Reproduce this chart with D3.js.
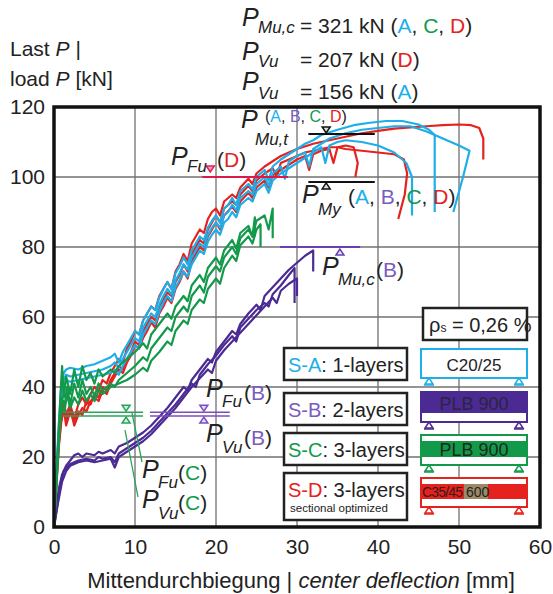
<!DOCTYPE html>
<html>
<head>
<meta charset="utf-8">
<script src="https://cdn.jsdelivr.net/npm/d3@7"></script>
<style>
  body { margin: 0; background: white; }
  svg { display: block; font-family: "Liberation Sans", Arial, sans-serif; }
</style>
</head>
<body>
<svg id="chart" width="553" height="594"></svg>
<script>
// ticks
var xTicks = [0, 10, 20, 30, 40, 50, 60];
var yTicks = [0, 20, 40, 60, 80, 100, 120];

// S-A (1-layers) load-deflection curves [deflection mm, load kN]
var seriesA1 = [[0,0],[0.3,16],[0.6,30],[0.9,40],[1.2,44],[1.5,45],[2,45.5],[3,45],[4,46],[5,46.5],[6,47.5],[7,48.5],[7.5,49.5],[8,47],[8.5,50],[9,52],[9.5,54],[10,56],[10.5,55],[11,59],[11.5,61],[12,63],[12.5,62],[13,65.5],[13.5,68],[14,70],[14.5,68],[15,72.5],[15.5,74.5],[16,77],[16.5,75],[17,79],[17.5,81],[18,83],[18.5,82],[19,85.5],[19.5,87.5],[20,89],[20.5,87],[21,91],[21.5,92],[22,94],[22.5,92],[23,96],[24,98],[24.5,96.5],[25,100],[26,102],[26.5,99],[27,103],[28,105],[29,106.5],[30,108],[31,109.5],[32,110.5],[33,112],[35,113.5],[37,114.8],[39,115.5],[41,116],[43,116],[45,115],[46.3,113.5],[47,112],[47,101],[47,90]];
var seriesA2 = [[0,0],[0.3,15],[0.6,28],[0.9,38],[1.2,42],[1.5,43.5],[2,43],[3,43.5],[4,44],[5,44.5],[6,45],[7,46],[7.5,47],[8,45.5],[8.5,48],[9,50],[9.5,52],[10,54],[10.5,53],[11,57],[11.5,59],[12,61],[12.5,60],[13,63.5],[13.5,66],[14,68],[14.5,66.5],[15,70.5],[15.5,72.5],[16,75],[16.5,73.5],[17,77],[17.5,79],[18,81],[18.5,80],[19,83.5],[19.5,85.5],[20,87],[20.5,85.5],[21,89],[21.5,90],[22,92],[22.5,90.5],[23,94],[24,96],[24.5,95],[25,98],[26,100],[26.5,97.5],[27,101],[28,103],[28.5,99.5],[29,104.5],[30,106],[31,107],[31.5,103],[32,108],[33,109.5],[34,111],[36,112.5],[38,113.5],[40,114],[42,114.5],[44,114.5],[46,113],[48,111],[50,109],[51.3,107.5],[50.5,100],[49.3,90]];
var seriesA3 = [[0,0],[0.3,14],[0.6,27],[0.9,36],[1.2,40],[1.5,42],[2,41.5],[3,42],[4,42.5],[5,43],[6,43.5],[7,44],[7.5,45],[8,43.5],[8.5,46],[9,48],[9.5,50],[10,52],[10.5,51],[11,55],[11.5,57],[12,59],[12.5,58],[13,61.5],[13.5,64],[14,66],[14.5,64.5],[15,68.5],[15.5,70.5],[16,73],[16.5,71.5],[17,75],[17.5,77],[18,79],[18.5,78],[19,81.5],[19.5,83.5],[20,85],[20.5,83.5],[21,87],[21.5,88],[22,90],[22.5,88.5],[23,92],[24,94],[24.5,93],[25,96],[26,98],[26.5,95.5],[27,99],[28,101],[29,102.5],[30,104],[31,105.5],[32,107],[33,108.5],[33.5,104],[34,109],[35,110],[36,110.5],[38,110],[40,109],[42,107],[43.5,104],[44.2,100],[44.2,89]];

// S-B (2-layers)
var seriesB1 = [[0,0],[0.3,6],[0.6,11],[1,15],[1.5,17.5],[2,19],[2.5,20.5],[3,21],[3.5,20],[4,21],[5,20.5],[5.5,21.5],[6,21],[7,22],[7.5,21],[8,23],[9,24],[10,25.5],[11,27],[12,29],[13,31.5],[14,34],[15,37],[16,40],[16.5,39],[17,42],[18,45],[19,48],[19.5,47],[20,50],[21,53],[22,56],[22.5,55],[23,58],[24,61],[25,63.5],[25.5,62],[26,66],[27,68.5],[28,71],[29,73.5],[30,75.5],[31,77.5],[32,79],[32,73]];
var seriesB2 = [[0,0],[0.4,6],[0.8,12],[1.2,16],[2,18],[3,19],[4,19.5],[5,19],[5.5,20],[6,19.5],[7,20],[7.5,18.5],[8,21],[9,22.5],[10,24],[11,25.5],[12,27.5],[13,30],[14,32.5],[15,35],[16,38],[17,41],[17.5,40],[18,43.5],[19,46.5],[20,49],[21,52],[22,54.5],[22.5,53],[23,57],[24,59.5],[25,62],[26,64],[26.5,63],[27,66.5],[28,69],[29,72],[29.7,74],[29.7,64]];
var seriesB3 = [[0,0],[0.5,7],[1,13],[1.5,16],[2,17.5],[3,18.5],[4,19],[5,18.5],[6,19],[7,19.5],[7.5,17],[8,20],[9,21.5],[10,23],[11,24.5],[12,26.5],[13,29],[14,31.5],[15,34],[16,37],[17,40],[18,42.5],[19,45],[19.5,44],[20,47.5],[21,50.5],[22,53],[23,55.5],[24,58],[25,60.5],[26,63],[27,65.5],[27.5,64],[28,67.5],[29,69.5],[30,71],[30,66]];

// S-C (3-layers)
var seriesC1 = [[0,0],[0.3,14],[0.6,28],[0.8,38],[1,46],[1.2,37],[1.5,43],[2,38],[2.5,45],[3,40],[3.5,46],[4,42],[4.5,44],[5,41],[5.5,45],[6,43],[7,45],[7.5,44],[8,46],[9,48],[10,50],[11,52.5],[11.5,51],[12,55],[13,58],[14,61],[14.5,59.5],[15,63],[16,66],[16.5,64.5],[17,69],[18,72],[18.5,70],[19,74],[20,77],[20.5,75],[21,79],[22,82],[22.5,79.5],[23,84],[24,86],[24.5,83],[25,87.5],[26,89],[26.5,85],[27,91],[27,82.5]];
var seriesC2 = [[0,0],[0.3,13],[0.6,26],[0.8,33],[1,37],[1.3,34],[1.6,40],[2,35],[2.5,41],[3,37],[3.5,42],[4,38],[4.5,40],[5,37.5],[5.5,41],[6,39],[7,41],[7.5,40],[8,42],[9,44],[10,46],[11,48.5],[11.5,47.5],[12,51],[13,54],[14,57],[14.5,56],[15,60],[16,63],[16.5,61.5],[17,66],[18,69],[18.5,67],[19,71.5],[20,74.5],[20.5,73],[21,77],[22,80],[22.5,78],[23,82.5],[24,85],[24.5,83],[24.8,88.5],[24.8,83]];
var seriesC3 = [[0,0],[0.3,12],[0.6,24],[0.8,31],[1,34],[1.3,33],[1.6,38],[2,34],[2.5,37],[3,35],[3.5,39],[4,36],[4.5,38],[5,36],[5.5,39],[6,38],[7,40],[8,41],[9,42],[10,43.5],[11,45.5],[11.5,44.5],[12,47.5],[13,50],[14,53],[14.5,52],[15,56],[16,59],[16.5,58],[17,62],[18,65],[18.5,64],[19,68],[20,71],[20.5,69.5],[21,74],[22,77.5],[22.5,76],[23,80.5],[24,83],[24.5,81],[25,85],[25.5,86.5],[25.5,80]];

// S-D (3-layers, sectional optimized)
var seriesD1 = [[0,0],[0.3,14],[0.6,26],[0.9,33],[1.2,36],[1.5,32],[2,35],[2.5,31],[3,35],[3.5,37],[4,35],[4.5,38],[5,40],[5.5,39],[6,42],[6.5,41],[7,44],[7.5,46],[8,48],[8.5,47],[9,51],[9.5,53],[10,56],[10.5,55],[11,59],[11.5,61],[12,63],[12.5,62],[13,66],[13.5,68],[14,70],[14.5,68],[15,73],[15.5,75],[16,78],[16.5,76],[17,81],[17.5,83],[18,85],[18.5,84],[19,88],[19.5,90],[20,91],[20.5,89],[21,93],[22,95],[22.5,94],[23,97],[24,99.5],[24.5,98],[25,101],[26,103],[27,104.5],[28,106],[29,107],[30,108],[32,109.5],[34,110.5],[36,111.5],[38,112.5],[40,113.2],[42,113.8],[44,114.2],[46,114.5],[48,114.8],[50,115],[51.5,114.8],[52.5,114],[53,111],[53,105]];
var seriesD2 = [[0,0],[0.3,12],[0.6,23],[0.9,30],[1.2,34],[1.5,29],[2,33],[2.5,30],[3,33],[3.5,32],[4,36],[4.5,35],[5,38],[5.5,37],[6,40],[6.5,39],[7,42],[7.5,44],[8,46],[8.5,45],[9,48],[9.5,50],[10,53],[10.5,52],[11,56],[11.5,58],[12,60],[12.5,59],[13,63],[13.5,65],[14,67],[14.5,66],[15,70],[15.5,72],[16,75],[16.5,73],[17,78],[17.5,80],[18,82],[18.5,81],[19,85],[19.5,87],[20,89],[20.5,87],[21,91],[22,93],[22.5,92],[23,95],[24,97.5],[24.5,96],[25,99],[26,101],[27,102.5],[27.5,100],[28,104],[29,105],[30,106],[31,107],[32,107.5],[33,108],[34,108.5],[35,108.5],[36,108],[38,107.5],[40,107],[42,106.5],[43.2,105],[43.6,101],[43.3,95],[42.5,88]];
var seriesD3 = [[0,0],[0.3,13],[0.6,24],[0.9,31],[1.2,35],[1.5,30],[2,34],[2.5,29],[3,32],[3.5,34],[4,33],[4.5,36],[5,37],[5.5,36],[6,39],[6.5,38],[7,41],[7.5,43],[8,45],[8.5,44],[9,47],[9.5,49],[10,52],[10.5,51],[11,54],[11.5,56],[12,58.5],[12.5,57],[13,61],[13.5,63],[14,65.5],[14.5,64],[15,68],[15.5,70],[16,73],[16.5,71],[17,76],[17.5,78],[18,80],[18.5,79],[19,83],[19.5,85],[20,87],[20.5,85],[21,89],[22,91.5],[22.5,90],[23,93],[24,95.5],[24.5,94],[25,97],[26,99],[26.5,97],[27,100.5],[28,102],[29,103.5],[30,105],[31,106],[31.5,102],[32,106.5],[33,107.5],[34,108],[34.5,104],[35,108.5],[36,109],[37,108.5],[37.5,104],[37.2,100]];

// characteristic loads [kN]
var pFuD = 100;
var pMut = 112.3;
var pMy = 98.6;
var pMucB = 80;
var pFuBC = 32.8;
var pVuBC = 31.7;

var legendKeys = ["S-A", "S-B", "S-C", "S-D"];
var legendLabels = [": 1-layers", ": 2-layers", ": 3-layers", ": 3-layers"];

var colors = { A: "#1eaee8", B: "#4b2b93", C: "#13994a", D: "#e5221d" };
var lightB = "#7a5cc0";
var svg, xScale, yScale;

document.addEventListener("DOMContentLoaded", () => {
  svg = d3.select("#chart");
  xScale = d3.scaleLinear().domain([0, 60]).range([54, 540]);
  yScale = d3.scaleLinear().domain([0, 120]).range([527, 107]);
  drawChart();
});

function drawChart() {
  var x = xScale, y = yScale;

  // grid
  var grid = svg.append("g").attr("stroke", "#707070").attr("stroke-width", 1.3);
  grid.selectAll(".gx").data(xTicks.slice(1, -1)).join("line")
    .attr("x1", d => x(d)).attr("x2", d => x(d)).attr("y1", y(0)).attr("y2", y(120));
  grid.selectAll(".gy").data(yTicks.slice(1, -1)).join("line")
    .attr("y1", d => y(d)).attr("y2", d => y(d)).attr("x1", x(0)).attr("x2", x(60));

  // axes tick labels
  var xAxis = d3.axisBottom(x).tickValues(xTicks).tickSize(0).tickPadding(10);
  svg.append("g").attr("transform", `translate(0,${y(0) + 2})`).call(xAxis)
    .call(g => g.select(".domain").remove())
    .selectAll("text").attr("font-size", 21).attr("fill", "#222")
    .attr("font-family", "Liberation Sans, Arial, sans-serif");
  var yAxis = d3.axisLeft(y).tickValues(yTicks).tickSize(0).tickPadding(9);
  svg.append("g").attr("transform", `translate(${x(0)},0)`).call(yAxis)
    .call(g => g.select(".domain").remove())
    .selectAll("text").attr("font-size", 21).attr("fill", "#222")
    .attr("font-family", "Liberation Sans, Arial, sans-serif");

  // curves
  var line = d3.line().x(d => x(d[0])).y(d => y(d[1]));
  var specimens = [
    { key: "B", curves: [seriesB1, seriesB2, seriesB3] },
    { key: "D", curves: [seriesD1, seriesD2, seriesD3] },
    { key: "A", curves: [seriesA1, seriesA2, seriesA3] },
    { key: "C", curves: [seriesC1, seriesC2, seriesC3] },
  ];
  specimens.forEach(s => {
    svg.append("g").selectAll("path").data(s.curves).join("path")
      .attr("d", line).attr("fill", "none")
      .attr("stroke", colors[s.key]).attr("stroke-width", 2.2)
      .attr("stroke-linejoin", "round");
  });

  // reference lines
  function hline(v, x0, x1, color, w) {
    svg.append("line").attr("x1", x(x0)).attr("x2", x(x1))
      .attr("y1", y(v)).attr("y2", y(v))
      .attr("stroke", color).attr("stroke-width", w || 2);
  }
  function tri(cx, cy, up, color, fill) {
    var h = 6, w = 4;
    var p = up ? `M${cx},${cy} L${cx - w},${cy + h} L${cx + w},${cy + h} Z`
               : `M${cx},${cy} L${cx - w},${cy - h} L${cx + w},${cy - h} Z`;
    svg.append("path").attr("d", p).attr("fill", fill || "white")
      .attr("stroke", color).attr("stroke-width", 1.5);
  }

  hline(pFuD, 18.3, 28.9, "#d91a4a", 2.2);
  tri(x(19.3), y(pFuD) - 5, false, "#e0205a", "#f7a0b8");

  hline(pMut, 31.4, 39.6, "#111", 2);
  tri(x(33.6), y(pMut) - 1, false, "#111", "#ddd");
  hline(pMy, 31.4, 39.6, "#111", 2);
  tri(x(33.6), y(pMy) + 1, true, "#111", "#ddd");

  hline(pMucB, 27.9, 37.8, "#6a3fb0", 2);
  tri(x(35.3), y(pMucB) + 2, true, "#6a3fb0", "#e8dcf7");

  hline(pFuBC, 11.85, 21.7, "#7a4ec0", 1.6);
  hline(pVuBC, 11.85, 21.7, "#7a4ec0", 1.6);
  tri(x(18.5), y(pFuBC) - 1, false, "#7a4ec0", "#e8dcf7");
  tri(x(18.5), y(pVuBC) + 1, true, "#7a4ec0", "#e8dcf7");

  hline(pFuBC, 1.1, 11, "#2aa35a", 1.6);
  hline(pVuBC, 1.1, 11, "#2aa35a", 1.6);
  tri(x(8.9), y(pFuBC) - 1, false, "#2aa35a", "#d6f0de");
  tri(x(8.9), y(pVuBC) + 1, true, "#2aa35a", "#d6f0de");
  svg.append("line").attr("x1", 132).attr("y1", 413).attr("x2", 142).attr("y2", 462)
    .attr("stroke", "#2aa35a").attr("stroke-width", 1.3);
  svg.append("line").attr("x1", 125).attr("y1", 430).attr("x2", 138).attr("y2", 497)
    .attr("stroke", "#2aa35a").attr("stroke-width", 1.3);

  // frame
  svg.append("rect").attr("x", x(0)).attr("y", y(120))
    .attr("width", x(60) - x(0)).attr("height", y(0) - y(120))
    .attr("fill", "none").attr("stroke", "#111").attr("stroke-width", 3.5);

  // text helpers: P with subscript as one text element
  function sym(px, py, sub, subDx, subDy) {
    var t = svg.append("text").attr("x", px).attr("y", py).attr("fill", "#222")
      .attr("font-style", "italic");
    t.append("tspan").attr("font-size", 25).text("P");
    t.append("tspan").attr("x", px + (subDx || 16)).attr("dy", subDy || 9)
      .attr("font-size", 17).text(sub);
  }
  function colored(px, py, parts, size) {
    var t = svg.append("text").attr("x", px).attr("y", py).attr("font-size", size || 20);
    parts.forEach(p => t.append("tspan").attr("fill", p[1] || "#222").text(p[0]));
    return t;
  }

  // y title
  colored(10, 56, [["Last "], ["P"], [" |"]], 21).select("tspan:nth-child(2)").attr("font-style", "italic");
  colored(10, 86, [["load "], ["P"], [" [kN]"]], 21).select("tspan:nth-child(2)").attr("font-style", "italic");

  // top text
  sym(242, 26, "Mu,c", 16, 7);
  colored(300, 33, [["= 321 kN ("], ["A", colors.A], [", "], ["C", colors.C], [", "], ["D", colors.D], [")"]], 21);
  sym(242, 60, "Vu", 16, 7);
  colored(300, 67, [["= 207 kN ("], ["D", colors.D], [")"]], 21);
  sym(242, 90, "Vu", 16, 9);
  colored(300, 99, [["= 156 kN ("], ["A", colors.A], [")"]], 21);

  // P_Mu,t
  sym(241, 128, "Mu,t", 14, 17);
  colored(265, 122, [["("], ["A", colors.A], [", "], ["B", lightB], [", "], ["C", colors.C], [", "], ["D", colors.D], [")"]], 16);

  // P_Fu (D)
  sym(171, 165, "Fu", 16, 7);
  colored(217, 167, [["("], ["D", colors.D], [")"]], 21);

  // P_My
  sym(302, 203, "My", 16, 12);
  colored(348, 204, [["("], ["A", colors.A], [", "], ["B", lightB], [", "], ["C", colors.C], [", "], ["D", colors.D], [")"]], 21);

  // P_Mu,c (B)
  sym(322, 275, "Mu,c", 16, 10);
  colored(376, 277, [["("], ["B", lightB], [")"]], 21);

  // P_Fu (B), P_Vu (B)
  sym(206, 397, "Fu", 16, 10);
  colored(244, 400, [["("], ["B", lightB], [")"]], 21);
  sym(206, 442, "Vu", 16, 11);
  colored(244, 445, [["("], ["B", lightB], [")"]], 21);

  // P_Fu (C), P_Vu (C)
  sym(142, 478, "Fu", 16, 10);
  colored(178, 480, [["("], ["C", colors.C], [")"]], 21);
  sym(142, 508, "Vu", 16, 11);
  colored(178, 510, [["("], ["C", colors.C], [")"]], 21);

  // x title
  var xt = svg.append("text").attr("x", 301).attr("y", 588).attr("text-anchor", "middle")
    .attr("font-size", 22).attr("fill", "#222");
  xt.append("tspan").text("Mittendurchbiegung | ");
  xt.append("tspan").attr("font-style", "italic").text("center deflection");
  xt.append("tspan").text(" [mm]");

  // rho box
  svg.append("rect").attr("x", 423).attr("y", 308).attr("width", 104).attr("height", 32)
    .attr("fill", "white").attr("stroke", "#222").attr("stroke-width", 2.5);
  var rt = svg.append("text").attr("x", 429).attr("y", 332).attr("font-size", 20).attr("fill", "#222");
  rt.append("tspan").text("\u03C1");
  rt.append("tspan").attr("font-size", 12).text("s");
  rt.append("tspan").text(" = 0,26 %");

  // legend boxes
  var boxY = [348, 393, 433, 473];
  var boxH = [32, 32, 32, 47];
  var keys = ["A", "B", "C", "D"];
  keys.forEach((k, i) => {
    svg.append("rect").attr("x", 284).attr("y", boxY[i]).attr("width", 123).attr("height", boxH[i])
      .attr("fill", "white").attr("stroke", "#222").attr("stroke-width", 2.5);
    colored(288, boxY[i] + 24, [[legendKeys[i], k == "B" ? lightB : colors[k]], [legendLabels[i]]], 20);
  });
  svg.append("text").attr("x", 290).attr("y", 512).attr("font-size", 11.5).attr("fill", "#222")
    .text("sectional optimized");

  // beam icons
  function supports(yb, color) {
    [429, 519].forEach(cx => {
      svg.append("path").attr("d", `M${cx},${yb} L${cx - 4},${yb + 6} L${cx + 4},${yb + 6} Z`)
        .attr("fill", "white").attr("stroke", color).attr("stroke-width", 1.5);
      svg.append("line").attr("x1", cx - 5).attr("x2", cx + 5).attr("y1", yb + 7).attr("y2", yb + 7)
        .attr("stroke", color).attr("stroke-width", 1.5);
    });
  }
  // A
  svg.append("rect").attr("x", 421).attr("y", 349).attr("width", 106).attr("height", 29)
    .attr("fill", "white").attr("stroke", colors.A).attr("stroke-width", 2);
  svg.append("text").attr("x", 474).attr("y", 371).attr("text-anchor", "middle")
    .attr("font-size", 17).attr("fill", "#222").text("C20/25");
  supports(378, colors.A);
  // B
  svg.append("rect").attr("x", 421).attr("y", 392).attr("width", 106).attr("height", 30)
    .attr("fill", "white").attr("stroke", colors.B).attr("stroke-width", 2);
  svg.append("rect").attr("x", 421).attr("y", 392).attr("width", 106).attr("height", 21)
    .attr("fill", colors.B);
  svg.append("text").attr("x", 474).attr("y", 410).attr("text-anchor", "middle")
    .attr("font-size", 18).attr("fill", "#2b2440").text("PLB 900");
  supports(422, colors.B);
  // C
  svg.append("rect").attr("x", 421).attr("y", 435).attr("width", 106).attr("height", 30)
    .attr("fill", "white").attr("stroke", colors.C).attr("stroke-width", 2);
  svg.append("rect").attr("x", 421).attr("y", 441).attr("width", 106).attr("height", 16)
    .attr("fill", colors.C);
  svg.append("text").attr("x", 474).attr("y", 456).attr("text-anchor", "middle")
    .attr("font-size", 18).attr("fill", "#1a2a1a").text("PLB 900");
  supports(465, colors.C);
  // D
  svg.append("rect").attr("x", 421).attr("y", 478).attr("width", 106).attr("height", 29)
    .attr("fill", "white").attr("stroke", colors.D).attr("stroke-width", 2);
  svg.append("rect").attr("x", 421).attr("y", 484).attr("width", 106).attr("height", 15)
    .attr("fill", colors.D);
  svg.append("rect").attr("x", 464).attr("y", 484).attr("width", 24).attr("height", 15)
    .attr("fill", "#9c8a66");
  svg.append("text").attr("x", 422).attr("y", 497).attr("font-size", 14).attr("letter-spacing", -0.8)
    .attr("fill", "#3a1a1a").text("C35/45");
  svg.append("text").attr("x", 466).attr("y", 497).attr("font-size", 14)
    .attr("fill", "#222").text("600");
  supports(507, colors.D);
}
</script>
</body>
</html>
